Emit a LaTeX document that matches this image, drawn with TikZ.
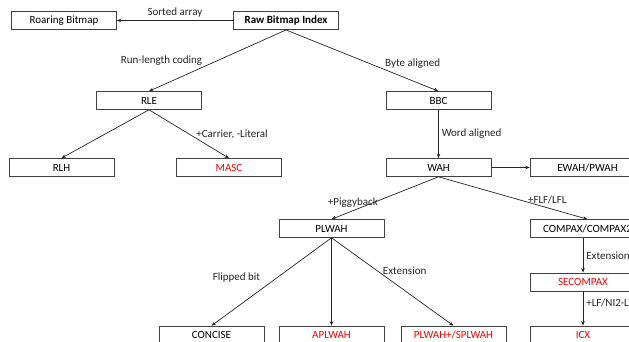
\documentclass[tikz,border=0pt]{standalone}
\usepackage{fontspec}
\setmainfont{Carlito}
\usetikzlibrary{arrows.meta, positioning}
\tikzset{
  box/.style={draw=black!75, line width=0.6pt, minimum width=105pt, minimum height=18pt,
    inner sep=1pt, font=\fontsize{11}{13}\selectfont},
  widebox/.style={box, minimum width=115pt},
  newone/.style={text=red},
  link/.style={-{Stealth[length=4.5pt,width=3.5pt]}, line width=0.7pt, black!85},
  lbl/.style={font=\fontsize{11}{13}\selectfont, text=black!85, inner sep=3pt}
}
\begin{document}
\begin{tikzpicture}[x=1pt, y=-1pt]
\useasboundingbox (0,0) rectangle (629,341);
\clip (0,0) rectangle (629,341);

% 第一层
\node[box, line width=0.9pt, font=\fontsize{11}{13}\selectfont\bfseries] (raw) at (286,20.5) {Raw Bitmap Index};
\node[box] (roaring) at (64,20.5) {Roaring Bitmap};

% 第二层
\node[box] (rle) at (149,100.5) {RLE};
\node[box] (bbc) at (438.5,100.5) {BBC};

% 第三层
\node[box, line width=0.8pt] (rlh) at (61.5,167.5) {RLH};
\node[box, newone] (masc) at (229,167.5) {MASC};
\node[box] (wah) at (438.5,167.5) {WAH};
\node[widebox] (ewah) at (587.5,167.5) {EWAH/PWAH};

% 第四层
\node[box] (plwah) at (331.5,228.5) {PLWAH};
\node[widebox] (compax) at (587.5,228.5) {COMPAX/COMPAX2};
\node[box, newone] (secompax) at (583,282) {SECOMPAX};

% 第五层
\node[box] (concise) at (211.5,335) {CONCISE};
\node[box, newone] (aplwah) at (331.5,335) {APLWAH};
\node[box, newone] (splwah) at (453.5,335) {PLWAH+/SPLWAH};
\node[box, newone] (icx) at (583,335) {ICX};

% 连线
\draw[link] (raw) -- (roaring) node[lbl, midway, above] (lsorted) {Sorted array};
\draw[link] (raw.south) -- (rle.north) node[lbl, midway, left=12pt] (lrun) {Run-length coding};
\draw[link] (raw.south) -- (bbc.north) node[lbl, pos=0.55, right=12pt] (lbyte) {Byte aligned};
\draw[link] (rle.south) -- (rlh.north);
\draw[link] (rle.south) -- (masc.north) node[lbl, midway, right=4pt] (lcarrier) {+Carrier, -Literal};
\draw[link] (bbc) -- (wah) node[lbl, midway, right] (lword) {Word aligned};
\draw[link] (wah) -- (ewah);
\draw[link] (wah.south) -- (plwah.north) node[lbl, pos=0.8, above] (lpiggy) {+Piggyback};
\draw[link] (wah.south) -- (compax.north) node[lbl, pos=0.73, above] (lflf) {+FLF/LFL};
\draw[link] (plwah.south) -- (concise.north) node[lbl, pos=0.45, left=14pt] (lflip) {Flipped bit};
\draw[link] (plwah) -- (aplwah);
\draw[link] (plwah.south) -- (splwah.north) node[lbl, pos=0.37, right=3pt] (lext) {Extension};
\draw[link] (compax.south -| secompax) -- (secompax) node[lbl, midway, right] (lextb) {Extension};
\draw[link] (secompax) -- (icx) node[lbl, pos=0.35, right] (llf) {+LF/NI2-L};
\end{tikzpicture}
\end{document}
